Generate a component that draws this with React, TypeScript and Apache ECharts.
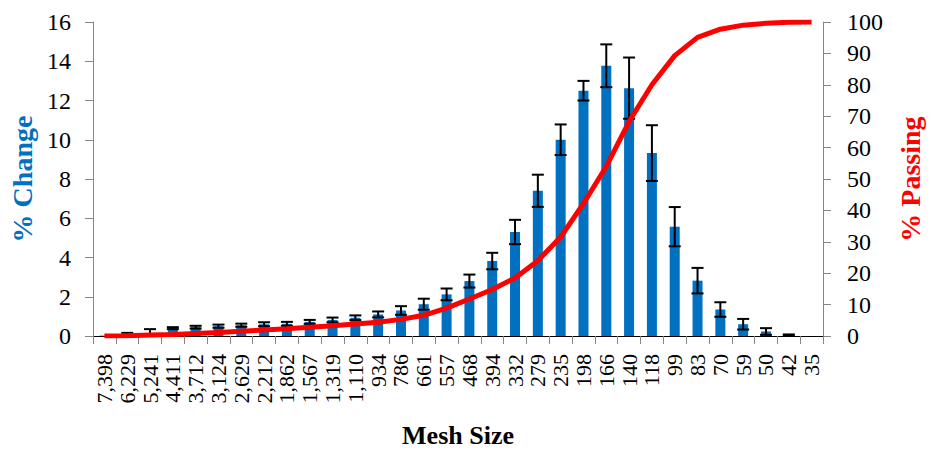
import React, { useEffect, useRef } from "react";
import * as echarts from "echarts";

const categories = ["7,398","6,229","5,241","4,411","3,712","3,124","2,629","2,212","1,862","1,567","1,319","1,110","934","786","661","557","468","394","332","279","235","198","166","140","118","99","83","70","59","50","42","35"];
const changeValues = [0.02,0.08,0.15,0.4,0.45,0.5,0.55,0.6,0.62,0.72,0.82,0.93,1.1,1.3,1.62,2.12,2.8,3.82,5.3,7.4,10.0,12.5,13.77,12.63,9.32,5.57,2.82,1.35,0.6,0.23,0.05,0];
const changeErrors = [0,0.08,0.2,0.05,0.07,0.08,0.08,0.1,0.1,0.1,0.12,0.12,0.15,0.22,0.28,0.3,0.33,0.42,0.62,0.82,0.78,0.5,1.09,1.56,1.42,1.0,0.65,0.37,0.27,0.17,0.03,0];
const passingValues = [0,0.1,0.3,0.5,0.8,1.1,1.5,1.9,2.3,2.8,3.3,3.8,4.4,5.3,6.6,8.9,11.8,14.8,18.5,24.0,31.5,42.2,54.0,68.3,80.0,89.3,95.1,97.7,99.0,99.6,99.9,100];
const leftTicks = { min: 0, max: 16, interval: 2 };
const rightTicks = { min: 0, max: 100, interval: 10 };

const FONT = "'Liberation Serif', 'Times New Roman', serif";
const BLUE = "#0070C0";
const RED = "#FF0000";
const GRAY = "#868686";

export default function App() {
  const ref = useRef<HTMLDivElement>(null);
  useEffect(() => {
    document.body.style.margin = "0";
    if (!ref.current) return;
    const chart = echarts.init(ref.current, null, { renderer: "svg" });
    const errData = changeValues
      .map((v, i) => [i, Math.max(0, v - changeErrors[i]), v + changeErrors[i], changeErrors[i]])
      .filter((d) => d[3] > 0);
    chart.setOption({
      animation: false,
      backgroundColor: "#fff",
      grid: { left: 93, right: 101, top: 22, bottom: 111, containLabel: false },
      xAxis: [
        {
          type: "category",
          data: categories,
          position: "bottom",
          boundaryGap: true,
          axisLine: { show: true, lineStyle: { color: GRAY, width: 1 } },
          axisTick: { show: true, length: 8, inside: false, alignWithLabel: false, lineStyle: { color: GRAY } },
          axisLabel: { rotate: 90, interval: 0, margin: 18, fontFamily: FONT, fontSize: 22, color: "#000" },
          name: "Mesh Size",
          nameLocation: "middle",
          nameGap: 86,
          nameTextStyle: { fontFamily: FONT, fontSize: 26, fontWeight: "bold", color: "#000" },
          splitLine: { show: false },
        },
        {
          type: "category",
          data: categories,
          position: "top",
          axisLine: { show: true, lineStyle: { color: "#000", width: 1 } },
          axisTick: { show: false },
          axisLabel: { show: false },
          splitLine: { show: false },
        },
      ],
      yAxis: [
        {
          type: "value",
          min: leftTicks.min,
          max: leftTicks.max,
          interval: leftTicks.interval,
          position: "left",
          axisLine: { show: true, lineStyle: { color: GRAY } },
          axisTick: { show: true, length: 8, lineStyle: { color: GRAY } },
          axisLabel: { margin: 22, fontFamily: FONT, fontSize: 24, color: "#000" },
          splitLine: { show: false },
          name: "% Change",
          nameLocation: "middle",
          nameRotate: 90,
          nameGap: 56,
          nameTextStyle: { fontFamily: FONT, fontSize: 28, fontWeight: "bold", color: BLUE },
        },
        {
          type: "value",
          min: rightTicks.min,
          max: rightTicks.max,
          interval: rightTicks.interval,
          position: "right",
          axisLine: { show: true, lineStyle: { color: GRAY } },
          axisTick: { show: true, length: 8, lineStyle: { color: GRAY } },
          axisLabel: { margin: 24, fontFamily: FONT, fontSize: 24, color: "#000" },
          splitLine: { show: false },
          name: "% Passing",
          nameLocation: "middle",
          nameRotate: 90,
          nameGap: 73,
          nameTextStyle: { fontFamily: FONT, fontSize: 28, fontWeight: "bold", color: RED },
        },
      ],
      series: [
        {
          name: "% Change",
          type: "bar",
          xAxisIndex: 0,
          yAxisIndex: 0,
          data: changeValues,
          barWidth: 10,
          itemStyle: { color: BLUE },
          z: 2,
        },
        {
          name: "Error",
          type: "custom",
          xAxisIndex: 0,
          yAxisIndex: 0,
          data: errData,
          encode: { x: 0, y: [1, 2] },
          z: 3,
          renderItem: (params: any, api: any) => {
            const i = api.value(0);
            const lo = api.coord([i, api.value(1)]);
            const hi = api.coord([i, api.value(2)]);
            const hw = 6;
            const style = { stroke: "#000", lineWidth: 2, fill: null };
            return {
              type: "group",
              children: [
                { type: "line", shape: { x1: hi[0], y1: hi[1], x2: lo[0], y2: lo[1] }, style },
                { type: "line", shape: { x1: hi[0] - hw, y1: hi[1], x2: hi[0] + hw, y2: hi[1] }, style },
                { type: "line", shape: { x1: lo[0] - hw, y1: lo[1], x2: lo[0] + hw, y2: lo[1] }, style },
              ],
            };
          },
        },
        {
          name: "% Passing",
          type: "line",
          xAxisIndex: 0,
          yAxisIndex: 1,
          data: passingValues,
          showSymbol: false,
          symbol: "none",
          smooth: false,
          lineStyle: { color: RED, width: 5 },
          itemStyle: { color: RED },
          z: 4,
        },
      ],
    });
    return () => chart.dispose();
  }, []);
  return <div ref={ref} style={{ width: 932, height: 453 }} />;
}
